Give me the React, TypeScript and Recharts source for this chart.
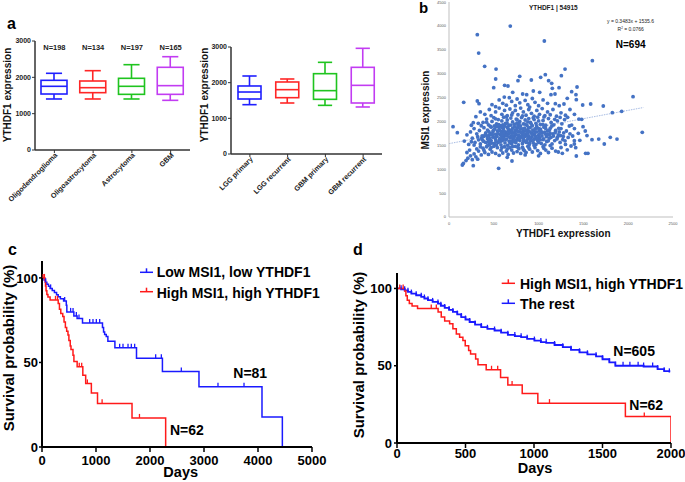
import React from "react";
import {
  ComposedChart,
  Bar,
  XAxis,
  YAxis,
  ScatterChart,
  Scatter,
  ReferenceLine,
  LineChart,
  Line,
} from "recharts";

const FONT = "'Liberation Sans', Arial, Helvetica, sans-serif";

// ---- panel a: YTHDF1 by histology ----
const tumourTypes = ["Oligodendroglioma", "Oligoastrocytoma", "Astrocytoma", "GBM"];
const tumourN = ["N=198", "N=134", "N=197", "N=165"];
const tumourMin = [1404, 1404, 1404, 1367];
const tumourQ1 = [1541, 1578, 1532, 1532];
const tumourMedian = [1753, 1715, 1753, 1771];
const tumourQ3 = [1918, 1899, 1973, 2276];
const tumourMax = [2111, 2183, 2348, 2568];

// ---- panel a: YTHDF1 by primary / recurrent ----
const stages = ["LGG primary", "LGG recurrent", "GBM primary", "GBM recurrent"];
const stageMin = [1383, 1430, 1364, 1318];
const stageQ1 = [1542, 1579, 1533, 1430];
const stageMedian = [1738, 1804, 1776, 1925];
const stageQ3 = [1907, 2019, 2252, 2430];
const stageMax = [2187, 2103, 2570, 2963];

const boxColors = ["#1f1fff", "#ff2626", "#1fc41f", "#c23cf2"];

// ---- panel b: YTHDF1 vs MSI1 ----
const slope = 0.3483;
const intercept = 1535.6;
const ythdf1Msi1: [number, number][] = [
  [684, 3997], [316, 3816], [331, 3432], [1064, 3684], [398, 3154], [525, 3097], [1600, 3271],
  [1295, 3097], [521, 2888], [789, 2945], [770, 2853], [919, 2867], [1075, 2979], [1023, 2924],
  [1112, 2853], [1146, 2798], [1228, 2706], [1254, 2958], [621, 2756], [658, 2742], [499, 2706],
  [941, 2637], [1153, 2693], [711, 2609], [822, 2574], [867, 2560], [1012, 2609], [1138, 2560],
  [1183, 2574], [1429, 2721], [1369, 2623], [1417, 2560], [1320, 2484], [1421, 2456], [2054, 2518],
  [164, 2400], [316, 2428], [335, 2371], [617, 2511], [673, 2497], [1492, 2344], [1581, 2365],
  [1722, 2323], [1187, 2371], [1283, 2365],
  [560, 2450], [600, 2380], [640, 2340], [700, 2420], [760, 2470], [790, 2390], [850, 2440],
  [880, 2350], [930, 2480], [960, 2400], [1000, 2330], [1050, 2450], [1100, 2380], [1230, 2330],
  [480, 2350], [520, 2310], [740, 2330], [900, 2300],
  [400, 2150], [450, 2250], [470, 2120], [520, 2200], [560, 2280], [590, 2150], [620, 2230],
  [650, 2120], [680, 2260], [710, 2180], [740, 2230], [770, 2140], [800, 2280], [830, 2200],
  [860, 2130], [890, 2250], [920, 2170], [950, 2110], [980, 2230], [1010, 2150], [1040, 2270],
  [1070, 2120], [1100, 2200], [1130, 2140], [1160, 2250], [1200, 2110], [1250, 2180], [1300, 2130],
  [1324, 2087], [1823, 2183], [1927, 2212], [350, 2200], [300, 2100], [1350, 2250], [1400, 2150],
  [1450, 2050],
  [45, 1890], [271, 1974], [327, 1960], [250, 1920], [380, 1980], [420, 2050], [440, 1930],
  [480, 2000], [500, 2080], [530, 1950], [550, 2040], [570, 1910], [590, 2010], [610, 2090],
  [630, 1960], [650, 2030], [670, 1920], [690, 2070], [710, 1990], [730, 1940], [750, 2050],
  [770, 1910], [790, 2000], [810, 2080], [830, 1950], [850, 2030], [870, 1920], [890, 2060],
  [910, 1980], [930, 1910], [950, 2040], [970, 1960], [990, 2090], [1020, 1940], [1050, 2020],
  [1080, 1920], [1110, 2060], [1140, 1980], [1170, 1930], [1210, 2010], [1260, 1950], [1290, 2040],
  [1343, 1905], [1369, 1925], [1481, 2045], [1496, 1890], [360, 1910], [460, 1900], [600, 1930],
  [780, 1960], [880, 1990], [1000, 2010],
  [93, 1764], [200, 1720], [240, 1780], [280, 1850], [310, 1740], [340, 1810], [370, 1700],
  [390, 1870], [410, 1760], [430, 1820], [450, 1710], [470, 1880], [490, 1780], [510, 1840],
  [520, 1730], [540, 1800], [560, 1870], [575, 1720], [590, 1790], [605, 1850], [620, 1710],
  [635, 1770], [650, 1880], [665, 1740], [680, 1820], [695, 1700], [710, 1860], [725, 1760],
  [740, 1810], [755, 1720], [770, 1880], [785, 1780], [800, 1840], [815, 1710], [830, 1790],
  [845, 1860], [860, 1740], [875, 1810], [890, 1700], [905, 1870], [920, 1760], [935, 1820],
  [950, 1730], [965, 1850], [980, 1780], [1000, 1710], [1020, 1840], [1040, 1760], [1060, 1880],
  [1080, 1730], [1100, 1800], [1130, 1860], [1160, 1740], [1190, 1810], [1220, 1720], [1250, 1850],
  [1280, 1760], [1310, 1800], [1443, 1752], [1521, 1800], [2157, 1773], [460, 1750], [530, 1890],
  [615, 1800], [700, 1760], [760, 1850], [880, 1760], [1010, 1800], [1120, 1720], [580, 1750],
  [660, 1800], [840, 1720], [960, 1700], [1230, 1780], [1350, 1740], [1400, 1850],
  [171, 1590], [220, 1520], [260, 1650], [290, 1560], [320, 1680], [350, 1530], [370, 1620],
  [390, 1690], [410, 1560], [430, 1640], [450, 1510], [470, 1600], [490, 1670], [505, 1540],
  [520, 1620], [535, 1690], [550, 1560], [565, 1640], [580, 1510], [595, 1600], [610, 1670],
  [625, 1550], [640, 1630], [655, 1500], [670, 1590], [685, 1660], [700, 1530], [715, 1620],
  [730, 1690], [745, 1560], [760, 1640], [775, 1510], [790, 1600], [805, 1670], [820, 1540],
  [835, 1620], [850, 1690], [865, 1560], [880, 1640], [895, 1510], [910, 1600], [925, 1670],
  [940, 1550], [955, 1630], [970, 1520], [990, 1600], [1010, 1660], [1030, 1540], [1050, 1620],
  [1070, 1510], [1090, 1580], [1120, 1650], [1150, 1530], [1180, 1600], [1210, 1670], [1240, 1560],
  [1270, 1620], [1300, 1520], [1399, 1597], [1399, 1528], [1362, 1486], [1414, 1450], [1671, 1632],
  [1596, 1618], [1800, 1668], [1875, 1632], [1733, 1528], [440, 1580], [600, 1700], [720, 1580],
  [830, 1580], [1000, 1560], [560, 1600], [680, 1550], [780, 1680], [900, 1550],
  [149, 1088], [271, 1074], [554, 1019], [703, 1172], [160, 1120], [190, 1180], [210, 1230],
  [240, 1280], [260, 1200], [280, 1320], [300, 1260], [330, 1380], [360, 1300], [380, 1440],
  [400, 1350], [420, 1470], [440, 1310], [460, 1420], [480, 1360], [500, 1480], [520, 1330],
  [540, 1450], [560, 1290], [580, 1400], [600, 1340], [620, 1470], [640, 1380], [660, 1310],
  [680, 1450], [700, 1400], [720, 1340], [740, 1480], [760, 1370], [780, 1430], [800, 1330],
  [820, 1460], [840, 1390], [860, 1350], [880, 1480], [900, 1420], [930, 1360], [960, 1450],
  [990, 1390], [1020, 1330], [1050, 1470], [1080, 1400], [1110, 1350], [1150, 1440], [1190, 1380],
  [1265, 1333], [1220, 1360], [1421, 1277], [1525, 1333], [1551, 1333], [320, 1210], [350, 1470],
  [650, 1250], [850, 1300], [1000, 1280], [230, 1400], [200, 1350],
  [365, 1655], [385, 1585], [405, 1725], [425, 1695], [445, 1785], [455, 1640], [475, 1545],
  [485, 1725], [495, 1815], [505, 1905], [515, 1665], [525, 1575], [545, 1745], [555, 1935],
  [565, 1815], [575, 1585], [585, 1695], [595, 1875], [600, 1645], [612, 1755], [622, 1905],
  [632, 1615], [642, 1705], [648, 1965], [658, 1855], [668, 1675], [678, 1765], [688, 1585],
  [692, 1925], [702, 1805], [712, 1695], [722, 1655], [732, 1885], [742, 1745], [752, 1605],
  [758, 1965], [768, 1795], [778, 1715], [788, 1635], [798, 1905], [808, 1765], [818, 1845],
  [828, 1655], [838, 1735], [848, 1945], [858, 1805], [868, 1595], [878, 1695], [888, 1865],
  [898, 1785], [908, 1655], [918, 1945], [928, 1725], [938, 1605], [948, 1815], [958, 1765],
  [968, 1685], [978, 1905], [988, 1645], [998, 1855], [1008, 1735], [1018, 1615], [1028, 1795],
  [1038, 1695], [1048, 1935], [1058, 1635], [1068, 1775], [1078, 1855], [1088, 1685], [1098, 1725],
  [1108, 1595], [1118, 1815], [1128, 1755], [1138, 1665], [1148, 1905], [1165, 1695], [1185, 1765],
  [1205, 1635], [1225, 1855], [1245, 1705], [1275, 1685], [1295, 1595], [1330, 1665], [1380, 1695],
  [1460, 1605], [1540, 1705],
  [430, 1495], [470, 1455], [530, 1505], [590, 1455], [650, 1425], [710, 1475], [770, 1455],
  [830, 1415], [890, 1455], [950, 1495], [1060, 1435], [1130, 1495], [1250, 1455], [1320, 1405],
  [390, 1395], [450, 1545], [310, 1425], [280, 1505], [250, 1575], [330, 1615],
  [420, 1985], [520, 2055], [640, 2095], [700, 2135], [760, 2035], [820, 2115], [940, 2075],
  [1060, 2095], [1180, 2045], [1240, 2085],
];

// ---- panels c/d: Kaplan-Meier, [day, survival %, censored] ----
const lowLowC: [number, number, number][] = [
  [0, 100, 0], [37, 98.8, 0], [60, 97.5, 0], [68, 97.5, 1], [90, 96.3, 0], [120, 95, 0],
  [150, 93.8, 0], [160, 93.8, 1], [190, 92.6, 0], [230, 91.4, 0], [270, 90.1, 0], [300, 88.9, 0],
  [340, 87.7, 0], [400, 86.4, 0], [420, 86.4, 1], [450, 83.9, 0], [460, 79.9, 0], [530, 79.9, 1],
  [575, 79.9, 1], [590, 77.4, 0], [636, 77.4, 1], [650, 76, 0], [685, 76, 1], [750, 73.3, 0],
  [883, 73.3, 1], [944, 73.3, 1], [1006, 73.3, 1], [1068, 73.3, 1], [1120, 70.7, 0], [1140, 68, 0],
  [1160, 66.6, 0], [1190, 65.3, 0], [1220, 62.5, 0], [1350, 58.7, 0], [1438, 58.7, 1],
  [1500, 58.7, 1], [1593, 58.7, 1], [1654, 58.7, 1], [1716, 58.7, 1], [1750, 52.5, 0],
  [2105, 52.5, 1], [2210, 52.5, 1], [2230, 44.6, 0], [2580, 44.6, 1], [2907, 35.6, 0],
  [3259, 35.6, 1], [3741, 35.6, 1], [4074, 17.8, 0], [4451, 0, 0],
];

const highHighC: [number, number, number][] = [
  [0, 100, 0], [20, 100, 1], [45, 100, 1], [56, 98.4, 0], [65, 95.2, 0], [75, 92.4, 0],
  [90, 90.2, 0], [110, 88.7, 0], [150, 87, 0], [250, 87, 1], [287, 87, 1], [300, 84.8, 0],
  [323, 81.5, 0], [348, 78.9, 0], [384, 77.2, 0], [408, 73.9, 0], [433, 70.6, 0], [457, 68.5, 0],
  [481, 66.3, 0], [498, 63, 0], [523, 59.8, 0], [537, 57.6, 0], [574, 54.3, 0], [591, 50.6, 0],
  [651, 47.4, 0], [690, 47.4, 1], [735, 47.4, 1], [756, 42.4, 0], [809, 37.6, 0], [840, 37.6, 1],
  [914, 32, 0], [1028, 25.8, 0], [1113, 25.8, 1], [1667, 17.2, 0], [1805, 17.2, 1], [2290, 0, 0],
];

const highHighD: [number, number, number][] = [
  [0, 100, 0], [20, 100, 1], [45, 100, 1], [56, 98.4, 0], [65, 95.2, 0], [75, 92.4, 0],
  [90, 90.2, 0], [110, 88.7, 0], [150, 87, 0], [250, 87, 1], [287, 87, 1], [300, 84.8, 0],
  [323, 81.5, 0], [348, 78.9, 0], [384, 77.2, 0], [408, 73.9, 0], [433, 70.6, 0], [457, 68.5, 0],
  [481, 66.3, 0], [498, 63, 0], [523, 59.8, 0], [537, 57.6, 0], [574, 54.3, 0], [591, 50.6, 0],
  [651, 47.4, 0], [690, 47.4, 1], [735, 47.4, 1], [756, 42.4, 0], [809, 37.6, 0], [840, 37.6, 1],
  [914, 32, 0], [1028, 25.8, 0], [1113, 25.8, 1], [1667, 17.2, 0], [1805, 17.2, 1], [2000, 0, 0],
];

const restD: [number, number, number][] = [
  [0, 100, 0], [30, 99.5, 1], [56, 98.8, 1], [80, 97.8, 1], [105, 96.7, 1], [140, 95.6, 1],
  [177, 94.6, 1], [200, 93.5, 1], [226, 92.4, 1], [260, 91.3, 1], [299, 90.2, 1], [320, 88.8, 1],
  [348, 87.4, 1], [380, 86.1, 1], [408, 84.8, 1], [440, 83.2, 1], [469, 81.5, 1], [500, 79.9, 1],
  [530, 78.3, 1], [570, 76.6, 1], [615, 75, 1], [660, 73.9, 1], [712, 72.8, 1], [760, 71.4, 1],
  [809, 70, 1], [860, 69.2, 1], [906, 68.5, 1], [950, 67.4, 1], [1003, 66.3, 1], [1050, 65.3, 1],
  [1089, 64.8, 1], [1150, 63.4, 1], [1210, 62, 1], [1270, 60.3, 1], [1332, 58.7, 1], [1390, 57.4, 1],
  [1453, 56.1, 1], [1500, 54.2, 1], [1550, 52.2, 1], [1594, 50, 1], [1650, 50, 1], [1700, 50, 1],
  [1760, 50, 1], [1800, 49.5, 1], [1866, 49.5, 1], [1902, 47.8, 1], [1950, 46.5, 1], [1988, 45.7, 1],
];

const toBoxes = (
  names: string[], mins: number[], q1s: number[], meds: number[], q3s: number[], maxs: number[]
) =>
  names.map((name, i) => ({
    name,
    min: mins[i],
    q1: q1s[i],
    median: meds[i],
    q3: q3s[i],
    max: maxs[i],
    color: boxColors[i],
  }));

const tumourData = toBoxes(tumourTypes, tumourMin, tumourQ1, tumourMedian, tumourQ3, tumourMax);
const stageData = toBoxes(stages, stageMin, stageQ1, stageMedian, stageQ3, stageMax);
const scatterData = ythdf1Msi1.map(([x, y]) => ({ x, y }));
const toKm = (rows: [number, number, number][]) => rows.map(([day, pct, c]) => ({ day, pct, c }));

// bar spans min..max, everything else is placed inside that span
function BoxShape(props: any) {
  const { x, y, width, height, payload } = props;
  const top = Math.min(y, y + height);
  const bottom = Math.max(y, y + height);
  const span = payload.max - payload.min;
  const py = (v: number) => bottom - ((v - payload.min) / span) * (bottom - top);
  const cx = x + width / 2;
  const cap = width * 0.62;
  return (
    <g stroke={payload.color} strokeWidth={1.6} fill="none">
      <line x1={cx} x2={cx} y1={py(payload.max)} y2={py(payload.q3)} />
      <line x1={cx} x2={cx} y1={py(payload.q1)} y2={py(payload.min)} />
      <line x1={cx - cap / 2} x2={cx + cap / 2} y1={py(payload.max)} y2={py(payload.max)} />
      <line x1={cx - cap / 2} x2={cx + cap / 2} y1={py(payload.min)} y2={py(payload.min)} />
      <rect x={x} y={py(payload.q3)} width={width} height={py(payload.q1) - py(payload.q3)} fill="#fff" />
      <line x1={x} x2={x + width} y1={py(payload.median)} y2={py(payload.median)} />
    </g>
  );
}

function SlantTick(props: any) {
  const { x, y, payload } = props;
  return (
    <text
      x={x}
      y={y}
      dy={3}
      dx={2}
      transform={`rotate(-45 ${x} ${y})`}
      textAnchor="end"
      fontSize={7.2}
      fontWeight={700}
      fontFamily={FONT}
      fill="#222"
    >
      {payload.value}
    </text>
  );
}

const censorDot = (color: string) => (props: any) => {
  const { cx, cy, payload, index } = props;
  if (!payload.c) return <g key={`n${index}`} />;
  return <line key={`c${index}`} x1={cx} x2={cx} y1={cy - 4} y2={cy} stroke={color} strokeWidth={1.3} />;
};

const boxTick = { fontSize: 7, fontWeight: 700, fill: "#222", fontFamily: FONT };
const kmTick = { fontSize: 13, fontWeight: 700, fill: "#000", fontFamily: FONT };
const smallTick = { fontSize: 4, fill: "#595959", fontFamily: FONT };

function BoxPanel({ data, barSize, margin, yWidth }: any) {
  return (
    <ComposedChart width={margin.w} height={240} data={data} margin={margin.m}>
      <XAxis
        dataKey="name"
        interval={0}
        tick={<SlantTick />}
        tickSize={3}
        height={margin.xh}
        axisLine={{ stroke: "#333", strokeWidth: 1.5 }}
        tickLine={{ stroke: "#333" }}
      />
      <YAxis
        domain={[0, 3000]}
        ticks={[0, 1000, 2000, 3000]}
        width={yWidth}
        tick={boxTick}
        tickSize={3}
        tickMargin={1}
        axisLine={{ stroke: "#333", strokeWidth: 1.5 }}
        tickLine={{ stroke: "#333" }}
      />
      <Bar dataKey={(d: any) => [d.min, d.max]} barSize={barSize} shape={<BoxShape />} isAnimationActive={false} />
    </ComposedChart>
  );
}

export default function App() {
  const T = (p: any) => <text fontFamily={FONT} {...p} />;
  return (
    <div style={{ position: "fixed", left: 0, top: 0, width: 685, height: 482, background: "#fff", overflow: "hidden" }}>
      <div style={{ position: "absolute", left: 0, top: 0 }}>
        <BoxPanel
          data={tumourData}
          barSize={26}
          yWidth={24}
          margin={{ w: 200, xh: 85, m: { top: 41, right: 10, bottom: 5, left: 11 } }}
        />
      </div>
      <div style={{ position: "absolute", left: 195, top: 0 }}>
        <BoxPanel
          data={stageData}
          barSize={23}
          yWidth={24}
          margin={{ w: 195, xh: 81, m: { top: 47, right: 8, bottom: 5, left: 12 } }}
        />
      </div>

      <div style={{ position: "absolute", left: 400, top: 0 }}>
        <ScatterChart width={285} height={240} margin={{ top: 2, right: 12, bottom: 8, left: 19 }}>
          <XAxis
            type="number"
            dataKey="x"
            domain={[0, 2500]}
            ticks={[0, 500, 1000, 1500, 2000, 2500]}
            height={15}
            tick={smallTick}
            tickLine={false}
            tickSize={0}
            tickMargin={5}
            axisLine={{ stroke: "#bfbfbf" }}
          />
          <YAxis
            type="number"
            dataKey="y"
            domain={[0, 4500]}
            ticks={[0, 500, 1000, 1500, 2000, 2500, 3000, 3500, 4000, 4500]}
            width={30}
            tick={smallTick}
            tickLine={false}
            tickSize={0}
            tickMargin={3}
            axisLine={{ stroke: "#bfbfbf" }}
          />
          <ReferenceLine
            segment={[
              { x: 0, y: intercept },
              { x: 2170, y: slope * 2170 + intercept },
            ]}
            stroke="#8faadc"
            strokeWidth={0.8}
            strokeDasharray="1.5 1"
          />
          <Scatter
            data={scatterData}
            isAnimationActive={false}
            shape={(p: any) => <circle cx={p.cx} cy={p.cy} r={1.9} fill="#4472c4" />}
          />
        </ScatterChart>
      </div>

      <div style={{ position: "absolute", left: 0, top: 240 }}>
        <LineChart width={340} height={242} margin={{ top: 21, right: 28, bottom: 5, left: 10 }}>
          <XAxis
            type="number"
            dataKey="day"
            domain={[0, 5000]}
            ticks={[0, 1000, 2000, 3000, 4000, 5000]}
            height={30}
            tick={kmTick}
            tickSize={5}
            tickMargin={4}
            axisLine={{ stroke: "#000", strokeWidth: 2 }}
            tickLine={{ stroke: "#000", strokeWidth: 1.5 }}
          />
          <YAxis
            type="number"
            domain={[0, 110]}
            ticks={[0, 50, 100]}
            width={32}
            tick={kmTick}
            tickSize={3}
            tickMargin={1}
            axisLine={{ stroke: "#000", strokeWidth: 2 }}
            tickLine={{ stroke: "#000", strokeWidth: 1.5 }}
          />
          <Line data={toKm(lowLowC)} dataKey="pct" type="stepAfter" stroke="#1a1aff" strokeWidth={1.5} dot={censorDot("#1a1aff")} isAnimationActive={false} />
          <Line data={toKm(highHighC)} dataKey="pct" type="stepAfter" stroke="#ff1a1a" strokeWidth={1.5} dot={censorDot("#ff1a1a")} isAnimationActive={false} />
        </LineChart>
      </div>

      <div style={{ position: "absolute", left: 345, top: 240 }}>
        <LineChart width={340} height={242} margin={{ top: 33, right: 14, bottom: 7, left: 18 }}>
          <XAxis
            type="number"
            dataKey="day"
            domain={[0, 2000]}
            allowDataOverflow
            ticks={[0, 500, 1000, 1500, 2000]}
            height={32}
            tick={kmTick}
            tickSize={5}
            tickMargin={1}
            axisLine={{ stroke: "#000", strokeWidth: 2 }}
            tickLine={{ stroke: "#000", strokeWidth: 1.5 }}
          />
          <YAxis
            type="number"
            domain={[0, 110]}
            ticks={[0, 50, 100]}
            width={34}
            tick={kmTick}
            tickSize={3}
            tickMargin={2}
            axisLine={{ stroke: "#000", strokeWidth: 2 }}
            tickLine={{ stroke: "#000", strokeWidth: 1.5 }}
          />
          <Line data={toKm(restD)} dataKey="pct" type="stepAfter" stroke="#1a1aff" strokeWidth={1.8} dot={censorDot("#1a1aff")} isAnimationActive={false} />
          <Line data={toKm(highHighD)} dataKey="pct" type="stepAfter" stroke="#ff1a1a" strokeWidth={1.5} dot={censorDot("#ff1a1a")} isAnimationActive={false} />
        </LineChart>
      </div>

      <svg width={685} height={482} style={{ position: "absolute", left: 0, top: 0, pointerEvents: "none" }}>
        {/* panel letters */}
        <T x={7} y={29.3} fontSize={16} fontWeight={700}>a</T>
        <T x={419} y={13} fontSize={15} fontWeight={700}>b</T>
        <T x={8} y={255} fontSize={16} fontWeight={700}>c</T>
        <T x={353} y={255} fontSize={16} fontWeight={700}>d</T>

        {/* panel a */}
        <T transform="translate(11.2 95) rotate(-90)" textAnchor="middle" fontSize={10} fontWeight={700} fill="#111">YTHDF1 expression</T>
        <T transform="translate(207.9 95) rotate(-90)" textAnchor="middle" fontSize={10} fontWeight={700} fill="#111">YTHDF1 expression</T>
        {tumourN.map((n, i) => (
          <T key={n} x={54.4 + i * 38.75} y={50} textAnchor="middle" fontSize={7.5} fontWeight={700} fill="#222">{n}</T>
        ))}

        {/* panel b */}
        <T x={553.3} y={9.6} textAnchor="middle" fontSize={6.5} fontWeight={700} fill="#222">YTHDF1 | 54915</T>
        <T x={630.5} y={22.5} textAnchor="middle" fontSize={5} fill="#222">y = 0.3483x + 1535.6</T>
        <T x={630.7} y={30.5} textAnchor="middle" fontSize={5} fill="#222">
          R<tspan fontSize={3} dy={-2}>2</tspan><tspan dy={2}> = 0.0766</tspan>
        </T>
        <T x={630.7} y={47.9} textAnchor="middle" fontSize={10} fontWeight={700} fill="#000">N=694</T>
        <T transform="translate(429 110) rotate(-90)" textAnchor="middle" fontSize={10} fontWeight={700} fill="#111">MSI1 expression</T>
        <T x={563.3} y={237.3} textAnchor="middle" fontSize={10} fontWeight={700} fill="#111">YTHDF1 expression</T>

        {/* panel c */}
        <T transform="translate(13.5 348) rotate(-90)" textAnchor="middle" fontSize={15} fontWeight={700}>Survival probability (%)</T>
        <T x={180.7} y={477.3} textAnchor="middle" fontSize={14.5} fontWeight={700}>Days</T>
        <g stroke="#1a1aff" strokeWidth={1.5}>
          <line x1={140} x2={153} y1={272.3} y2={272.3} />
          <line x1={146.5} x2={146.5} y1={268.3} y2={272.3} />
        </g>
        <T x={156.7} y={277.3} fontSize={14} fontWeight={700}>Low MSI1, low YTHDF1</T>
        <g stroke="#ff1a1a" strokeWidth={1.5}>
          <line x1={140} x2={153} y1={291.7} y2={291.7} />
          <line x1={146.5} x2={146.5} y1={287.7} y2={291.7} />
        </g>
        <T x={156.7} y={298} fontSize={14} fontWeight={700}>High MSI1, high YTHDF1</T>
        <T x={233.3} y={377.7} fontSize={14} fontWeight={700}>N=81</T>
        <T x={170} y={435} fontSize={14} fontWeight={700}>N=62</T>

        {/* panel d */}
        <T transform="translate(364 355) rotate(-90)" textAnchor="middle" fontSize={15} fontWeight={700}>Survival probability (%)</T>
        <T x={535} y={473} textAnchor="middle" fontSize={14.5} fontWeight={700}>Days</T>
        <g stroke="#ff1a1a" strokeWidth={1.5}>
          <line x1={501.7} x2={515} y1={283.3} y2={283.3} />
          <line x1={508.3} x2={508.3} y1={279.3} y2={283.3} />
        </g>
        <T x={520} y={289} fontSize={14} fontWeight={700}>High MSI1, high YTHDF1</T>
        <g stroke="#1a1aff" strokeWidth={1.5}>
          <line x1={501.7} x2={515} y1={303.3} y2={303.3} />
          <line x1={508.3} x2={508.3} y1={299.3} y2={303.3} />
        </g>
        <T x={520} y={309.3} fontSize={14} fontWeight={700}>The rest</T>
        <T x={613.3} y={356} fontSize={14} fontWeight={700}>N=605</T>
        <T x={629.3} y={410} fontSize={14} fontWeight={700}>N=62</T>
      </svg>
    </div>
  );
}
